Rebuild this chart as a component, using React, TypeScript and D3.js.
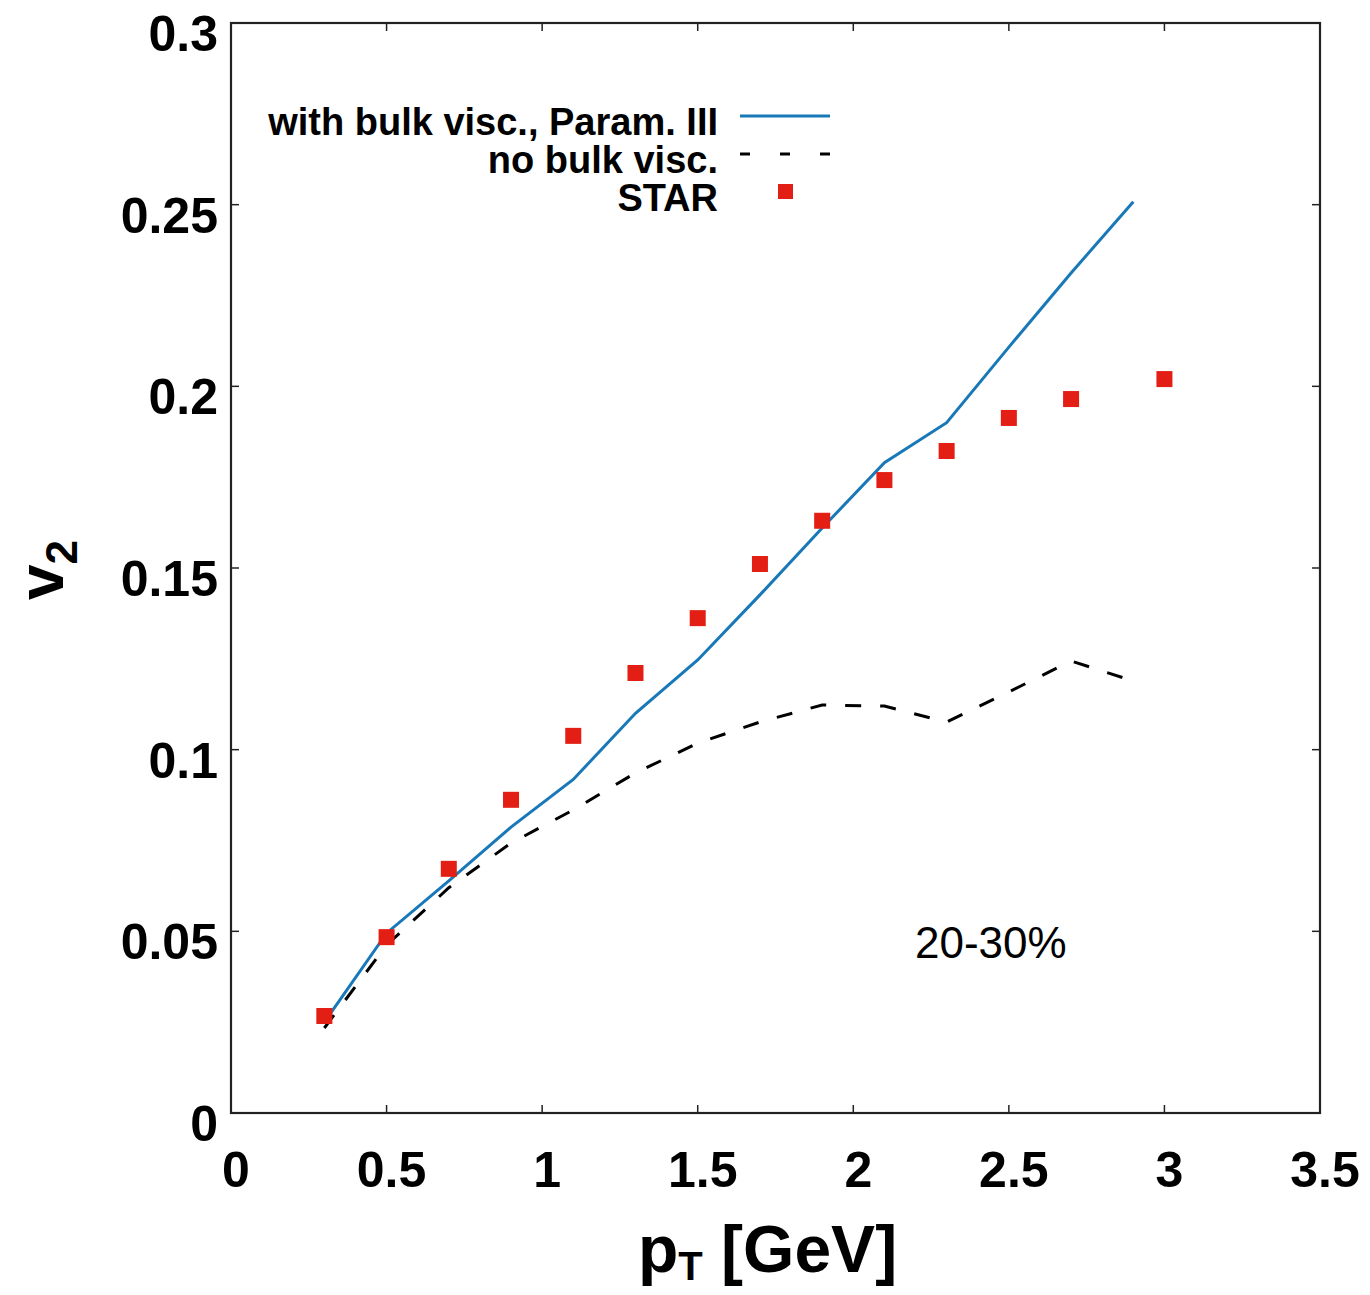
import React from "react";
import * as d3 from "d3";

const ptGrid = [0.3, 0.5, 0.7, 0.9, 1.1, 1.3, 1.5, 1.7, 1.9, 2.1, 2.3, 2.5, 2.7, 2.9];
const bulkVisc = [0.025, 0.0495, 0.0639, 0.0787, 0.0918, 0.110, 0.1247, 0.1426, 0.161, 0.179, 0.190, 0.2108, 0.2312, 0.2508];
const noBulk = [0.0234, 0.0462, 0.062, 0.0743, 0.0834, 0.0936, 0.1018, 0.1076, 0.1123, 0.112, 0.1076, 0.1159, 0.1244, 0.1189];
const starPt = [0.3, 0.5, 0.7, 0.9, 1.1, 1.3, 1.5, 1.7, 1.9, 2.1, 2.3, 2.5, 2.7, 3.0];
const starV2 = [0.0267, 0.0484, 0.0672, 0.0862, 0.1038, 0.1211, 0.1362, 0.1511, 0.163, 0.1742, 0.1822, 0.1913, 0.1965, 0.202];
const xTicks = [0, 0.5, 1, 1.5, 2, 2.5, 3, 3.5];
const yTicks = [0, 0.05, 0.1, 0.15, 0.2, 0.25, 0.3];
const legendLabels = ["with bulk visc., Param. III", "no bulk visc.", "STAR"];

const W = 1370, H = 1295;
const L = 231, R = 1320, T = 23, B = 1113;
const FONT = "'Liberation Sans', Arial, Helvetica, sans-serif";
const BLUE = "#1878b8";
const RED = "#e31e14";

export default function App() {
  const x = d3.scaleLinear().domain([0, 3.5]).range([L, R]);
  const y = d3.scaleLinear().domain([0, 0.3]).range([B, T]);
  const line = d3.line<[number, number]>().x(d => x(d[0])).y(d => y(d[1]));
  const blueData = ptGrid.map((p, i) => [p, bulkVisc[i]] as [number, number]);
  const dashData = ptGrid.map((p, i) => [p, noBulk[i]] as [number, number]);
  const tick = 8;
  return (
    <svg width={W} height={H} style={{ position: "absolute", left: 0, top: 0, background: "#fff" }}>
      <rect x={0} y={0} width={W} height={H} fill="#fff" />
      {xTicks.map((t, i) => (
        <g key={"xt" + i}>
          <line x1={x(t)} x2={x(t)} y1={B} y2={B - tick} stroke="#222" strokeWidth={1.5} />
          <line x1={x(t)} x2={x(t)} y1={T} y2={T + tick} stroke="#222" strokeWidth={1.5} />
          <text x={x(t) + 5} y={B + 74} textAnchor="middle" fontFamily={FONT} fontWeight="bold" fontSize={50}>{String(t)}</text>
        </g>
      ))}
      {yTicks.map((t, i) => (
        <g key={"yt" + i}>
          <line x1={L} x2={L + tick} y1={y(t)} y2={y(t)} stroke="#222" strokeWidth={1.5} />
          <line x1={R} x2={R - tick} y1={y(t)} y2={y(t)} stroke="#222" strokeWidth={1.5} />
          <text x={218} y={y(t) + 28} textAnchor="end" fontFamily={FONT} fontWeight="bold" fontSize={50}>{String(t)}</text>
        </g>
      ))}
      <rect x={L} y={T} width={R - L} height={B - T} fill="none" stroke="#222" strokeWidth={2.2} />
      <path d={line(dashData) || ""} fill="none" stroke="#000" strokeWidth={3} strokeDasharray="16 19" />
      <path d={line(blueData) || ""} fill="none" stroke={BLUE} strokeWidth={3} />
      {starPt.map((p, i) => (
        <rect key={"s" + i} x={x(p) - 8} y={y(starV2[i]) - 8} width={16} height={16} fill={RED} />
      ))}
      {legendLabels.map((lab, i) => (
        <text key={"lg" + i} x={718} y={135 + i * 38} textAnchor="end" fontFamily={FONT} fontWeight="bold" fontSize={38}>{lab}</text>
      ))}
      <line x1={740} x2={830} y1={116} y2={116} stroke={BLUE} strokeWidth={3} />
      <line x1={740} x2={830} y1={154} y2={154} stroke="#000" strokeWidth={3} strokeDasharray="10 30" />
      <rect x={778} y={184} width={15} height={15} fill={RED} />
      <text x={915} y={958} fontFamily={FONT} fontSize={44}>20-30%</text>
      <text x={638} y={1272} fontFamily={FONT} fontWeight="bold" fontSize={66}>
        p<tspan fontSize={40} dy={8}>T</tspan><tspan dy={-8}> [GeV]</tspan>
      </text>
      <text transform="translate(63,600) rotate(-90)" fontFamily={FONT} fontWeight="bold" fontSize={64}>
        v<tspan fontSize={44} dy={14}>2</tspan>
      </text>
    </svg>
  );
}
